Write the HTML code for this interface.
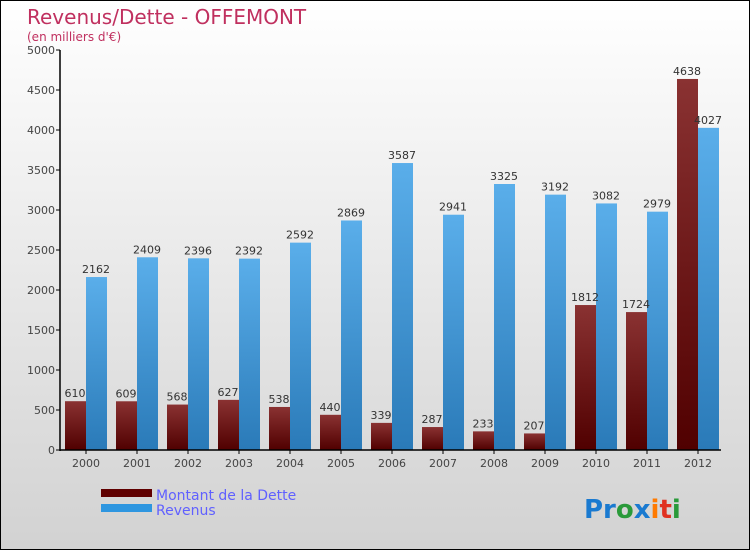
<!DOCTYPE html>
<html><head><meta charset="utf-8"><style>
body{margin:0}
#c{width:748px;height:548px;border:1px solid #000;background:linear-gradient(#ffffff,#d2d2d2);position:relative;font-family:"DejaVu Sans","Liberation Sans",sans-serif;overflow:hidden}
</style></head><body>
<div id="c">
<svg id="s" width="748" height="548">
<defs>
<linearGradient id="gd" x1="0" y1="0" x2="0" y2="1"><stop offset="0" stop-color="#8a3232"/><stop offset="1" stop-color="#500000"/></linearGradient>
<linearGradient id="gr" x1="0" y1="0" x2="0" y2="1"><stop offset="0" stop-color="#5aaeea"/><stop offset="1" stop-color="#2a7ab8"/></linearGradient>
</defs>
<text x="26" y="23" font-size="20" fill="#c0305f">Revenus/Dette - OFFEMONT</text>
<text x="26" y="40" font-size="12" fill="#c0305f">(en milliers d'€)</text>
<g id="g"></g>
<rect x="100" y="488" width="51" height="8" fill="#600000"/>
<rect x="100" y="503" width="51" height="8" fill="#2e96e0"/>
<text x="155" y="499" font-size="14" fill="#6060ff">Montant de la Dette</text>
<text x="155" y="514" font-size="14" fill="#6060ff">Revenus</text>
<text x="583" y="517" font-size="26" font-weight="bold"><tspan fill="#1a7ad0">Pr</tspan><tspan fill="#2a9a3a">o</tspan><tspan fill="#1a7ad0">x</tspan><tspan fill="#ff7a00">i</tspan><tspan fill="#e03020">t</tspan><tspan fill="#2a9a3a">i</tspan></text>
</svg></div>
<script>
const years=["2000","2001","2002","2003","2004","2005","2006","2007","2008","2009","2010","2011","2012"];
const dette=[610,609,568,627,538,440,339,287,233,207,1812,1724,4638];
const revenus=[2162,2409,2396,2392,2592,2869,3587,2941,3325,3192,3082,2979,4027];
const yTicks=[0,500,1000,1500,2000,2500,3000,3500,4000,4500,5000];
const NS="http://www.w3.org/2000/svg",g=document.getElementById('g');
const y0=449,X0=59,yMax=5000,ph=400;
const ys=v=>y0-v/yMax*ph, xs=i=>64+i*51;
function el(t,a,txt){const e=document.createElementNS(NS,t);for(const k in a)e.setAttribute(k,a[k]);if(txt!=null)e.textContent=txt;g.appendChild(e);return e;}
yTicks.forEach(v=>{
 const l=el('line',{x1:X0-4,x2:X0,y1:ys(v),y2:ys(v),stroke:'#000'});
 
 const t=el('text',{x:X0-5,y:ys(v)+4,'font-size':11,fill:'#444','text-anchor':'end'},v);
 
});
years.forEach((yr,i)=>{
 const x=xs(i);
 const r1=el('rect',{x:x,y:ys(dette[i]),width:21,height:y0-ys(dette[i]),fill:'url(#gd)'});
 
 const r2=el('rect',{x:x+21,y:ys(revenus[i]),width:21,height:y0-ys(revenus[i]),fill:'url(#gr)'});
 
 const t1=el('text',{x:x+10,y:ys(dette[i])-4,'font-size':11,fill:'#333','text-anchor':'middle'},dette[i]);
 
 const t2=el('text',{x:x+31,y:ys(revenus[i])-4,'font-size':11,fill:'#333','text-anchor':'middle'},revenus[i]);
 
 const tk=el('line',{x1:x+21,x2:x+21,y1:y0,y2:y0+4,stroke:'#000'});
 
 const t3=el('text',{x:x+21,y:y0+17,'font-size':11,fill:'#444','text-anchor':'middle'},yr);
 
});
const ax=el('line',{x1:X0,x2:X0,y1:ys(5000),y2:y0+1,stroke:'#000','stroke-width':1.5});

const bx=el('line',{x1:X0,x2:720,y1:y0,y2:y0,stroke:'#000','stroke-width':1.5});

</script>
</body></html>
